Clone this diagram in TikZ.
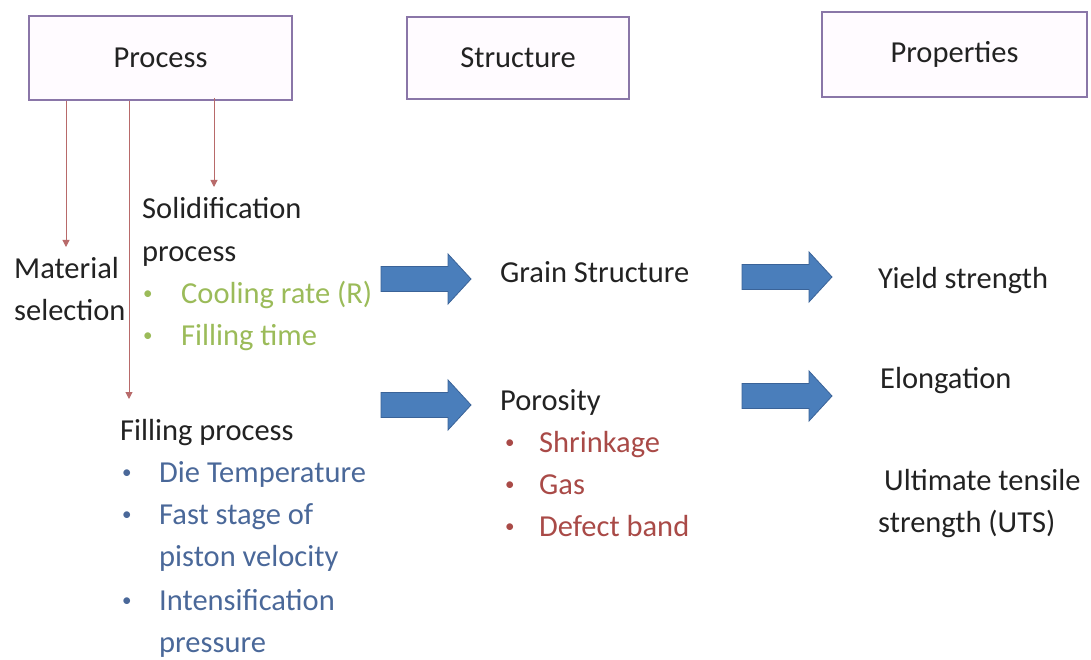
\documentclass[tikz,border=0pt]{standalone}
\usepackage{fontspec}
\setmainfont{Carlito}
\usetikzlibrary{arrows.meta}
\definecolor{boxline}{HTML}{8A76A8}
\definecolor{boxfill}{HTML}{FFFBFF}
\definecolor{conncol}{HTML}{B86A6A}
\definecolor{txt}{HTML}{222222}
\definecolor{grn}{HTML}{9BBB59}
\definecolor{blu}{HTML}{4A6899}
\definecolor{redt}{HTML}{A94A47}
\definecolor{arrfill}{HTML}{4A7EBB}
\definecolor{arrline}{HTML}{3A6398}
\tikzset{
  hbox/.style={draw=boxline, line width=1.6pt, fill=boxfill, inner sep=0pt, text=txt},
  lbl/.style={anchor=base west, inner sep=0pt, text=txt},
  bul/.style={anchor=base west, inner sep=0pt, font=\fontsize{19}{19}\selectfont, yshift=4pt},
  conn/.style={draw=conncol, line width=1pt, -{Triangle[length=7pt,width=7pt]}},
  bigarrow/.style={draw=arrline, fill=arrfill, line width=0.8pt, line join=miter},
}
\begin{document}
\begin{tikzpicture}[x=1pt,y=-1pt,font=\fontsize{30.5}{42}\selectfont]
\useasboundingbox (0,0) rectangle (1091,660);
% header boxes
\node[hbox, minimum width=263pt, minimum height=84pt] (proc) at (160.5,58) {Process};
\node[hbox, minimum width=222pt, minimum height=82pt] (struc) at (518,58) {Structure};
\node[hbox, minimum width=265pt, minimum height=85pt] (prop) at (954.5,54.5) {Properties};
% left texts
\node[lbl] (mat1) at (14,278) {Material};
\node[lbl] (mat2) at (14,320) {selection};
\node[lbl] (sol1) at (142,219) {Solidification};
\node[lbl] (sol2) at (142,261) {process};
\node[bul, text=grn] (solb1) at (143,303) {•};
\node[lbl, text=grn] (sol3) at (181,303) {Cooling rate (R)};
\node[bul, text=grn] (solb2) at (143,345) {•};
\node[lbl, text=grn] (sol4) at (181,345) {Filling time};
\node[lbl] (fil1) at (120,440) {Filling process};
\node[bul, text=blu] (filb1) at (122,482) {•};
\node[lbl, text=blu] (fil2) at (159,482) {Die Temperature};
\node[bul, text=blu] (filb2) at (122,524) {•};
\node[lbl, text=blu] (fil3) at (159,524) {Fast stage of};
\node[lbl, text=blu] (fil4) at (159,566) {piston velocity};
\node[bul, text=blu] (filb3) at (122,610) {•};
\node[lbl, text=blu] (fil5) at (159,610) {Intensification};
\node[lbl, text=blu] (fil6) at (159,652) {pressure};
% structure texts
\node[lbl] (grain) at (500,282) {Grain Structure};
\node[lbl] (poro) at (500,410) {Porosity};
\node[bul, text=redt] (porb1) at (505,452) {•};
\node[lbl, text=redt] (por1) at (539,452) {Shrinkage};
\node[bul, text=redt] (porb2) at (505,494) {•};
\node[lbl, text=redt] (por2) at (539,494) {Gas};
\node[bul, text=redt] (porb3) at (505,536) {•};
\node[lbl, text=redt] (por3) at (539,536) {Defect band};
% properties texts
\node[lbl] (yield) at (878,288) {Yield strength};
\node[lbl] (elong) at (880,388) {Elongation};
\node[lbl] (uts1) at (884,490) {Ultimate tensile};
\node[lbl] (uts2) at (878,532) {strength (UTS)};
% block arrows (shapes)
\foreach \n/\cx/\cy in {ba1/426/279, ba2/426/405, ba3/787/277, ba4/787/396}{
  \draw[bigarrow] (\cx,\cy) ++(-45,-12.5) -- ++(67,0) -- ++(0,-12.5) -- ++(23,25)
     -- ++(-23,25) -- ++(0,-12.5) -- ++(-67,0) -- cycle;
}
% connectors
\coordinate (c1) at (66,247);
\coordinate (c2) at (129,399);
\coordinate (c3) at (214,187);
\draw[conn] (proc.south -| c1) -- (c1);
\draw[conn] (proc.south -| c2) -- (c2);
\draw[conn] ([yshift=3pt]proc.south -| c3) -- (c3);
\end{tikzpicture}
\end{document}
